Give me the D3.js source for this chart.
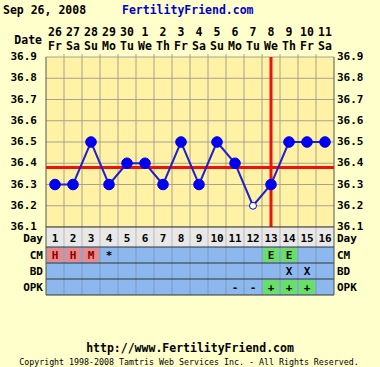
<!DOCTYPE html>
<html>
<head>
<meta charset="utf-8">
<script src="https://cdn.jsdelivr.net/npm/d3@7"></script>
<style>
  body { margin: 0; background: #FFFFCC; }
  svg { display: block; }
  text { font-family: "DejaVu Sans Mono", monospace; font-weight: bold; }
</style>
</head>
<body>
<div id="chart"></div>
<script>
// chart data
const days = d3.range(1, 17);
const dates = ["26","27","28","29","30","1","2","3","4","5","6","7","8","9","10","11"];
const weekdays = ["Fr","Sa","Su","Mo","Tu","We","Th","Fr","Sa","Su","Mo","Tu","We","Th","Fr","Sa"];
const temps = [36.3, 36.3, 36.5, 36.3, 36.4, 36.4, 36.3, 36.5, 36.3, 36.5, 36.4, 36.2, 36.3, 36.5, 36.5, 36.5];
const openPoints = [12];
const yTicks = [36.1, 36.2, 36.3, 36.4, 36.5, 36.6, 36.7, 36.8, 36.9];
const coverline = 36.38;
const ovulationDay = 13;
const cm = ["H","H","M","*","","","","","","","","","E","E","",""];
const bd = ["","","","","","","","","","","","","","X","X",""];
const opk = ["","","","","","","","","","","-","-","+","+","+",""];

const W = 380, H = 367;
const plotL = 46, plotR = 334, plotT = 57, plotB = 227;

const svg = d3.select("#chart").append("svg")
    .attr("width", W)
    .attr("height", H);

svg.append("rect").attr("width", W).attr("height", H).attr("fill", "#FFFFCC");

const x = d3.scaleBand().domain(days).range([plotL, plotR]);
const y = d3.scaleLinear().domain([36.1, 36.9]).range([plotB, plotT]);
const cx = d => x(d) + x.bandwidth() / 2;

// header
svg.append("text").attr("x", 3).attr("y", 14).attr("font-size", 11.5).attr("fill", "#000")
    .text("Sep 26, 2008");
svg.append("text").attr("x", 122).attr("y", 14).attr("font-size", 11.5).attr("fill", "#0000CC")
    .text("FertilityFriend.com");
svg.append("text").attr("x", 42).attr("y", 44).attr("text-anchor", "end").attr("font-size", 11.5)
    .text("Date");

svg.selectAll("text.date").data(days).enter().append("text")
    .attr("x", d => cx(d)).attr("y", 36).attr("text-anchor", "middle").attr("font-size", 11.5)
    .text((d, i) => dates[i]);
svg.selectAll("text.wd").data(days).enter().append("text")
    .attr("x", d => cx(d)).attr("y", 50).attr("text-anchor", "middle").attr("font-size", 11.5)
    .text((d, i) => weekdays[i]);

// plot area
svg.append("rect").attr("x", plotL).attr("y", plotT).attr("width", plotR - plotL).attr("height", plotB - plotT)
    .attr("fill", "#FFF2A4");

svg.selectAll("line.hgrid").data(yTicks).enter().append("line")
    .attr("x1", plotL).attr("x2", plotR)
    .attr("y1", d => y(d)).attr("y2", d => y(d))
    .attr("stroke", "#A8A290").attr("stroke-width", 1);
svg.selectAll("line.vgrid").data(days.slice(1)).enter().append("line")
    .attr("x1", d => x(d)).attr("x2", d => x(d))
    .attr("y1", plotT - 3).attr("y2", plotB)
    .attr("stroke", "#A8A290").attr("stroke-width", 1);
svg.append("line").attr("x1", plotL).attr("x2", plotL).attr("y1", plotT).attr("y2", plotB)
    .attr("stroke", "#555").attr("stroke-width", 1);
svg.append("line").attr("x1", plotR).attr("x2", plotR).attr("y1", plotT).attr("y2", plotB)
    .attr("stroke", "#555").attr("stroke-width", 1);

// y labels both sides
svg.selectAll("text.yl").data(yTicks).enter().append("text")
    .attr("x", 37).attr("y", d => y(d) + 3).attr("text-anchor", "end").attr("font-size", 11)
    .text(d => d.toFixed(1));
svg.selectAll("text.yr").data(yTicks).enter().append("text")
    .attr("x", 337).attr("y", d => y(d) + 3).attr("font-size", 11)
    .text(d => d.toFixed(1));

// coverline and ovulation line
svg.append("line").attr("x1", plotL).attr("x2", plotR)
    .attr("y1", y(coverline)).attr("y2", y(coverline))
    .attr("stroke", "#EE1111").attr("stroke-width", 3);
svg.append("line").attr("x1", cx(ovulationDay)).attr("x2", cx(ovulationDay))
    .attr("y1", plotT).attr("y2", plotB)
    .attr("stroke", "#EE1111").attr("stroke-width", 3);

// temperature line
const line = d3.line().x((d, i) => cx(days[i])).y(d => y(d));
svg.append("path").datum(temps).attr("d", line)
    .attr("fill", "none").attr("stroke", "#2020CC").attr("stroke-width", 2);
svg.selectAll("circle.pt").data(temps).enter().append("circle")
    .attr("cx", (d, i) => cx(days[i])).attr("cy", d => y(d))
    .attr("r", (d, i) => openPoints.includes(days[i]) ? 3.5 : 5.3)
    .attr("fill", (d, i) => openPoints.includes(days[i]) ? "#FFFFFF" : "#0000EE")
    .attr("stroke", "#0000EE").attr("stroke-width", 1);

// table
const rows = [
  { label: "Day", y0: 227, h: 20, fill: "#E8E8E8", vals: days.map(String) },
  { label: "CM", y0: 247, h: 16, fill: "#8DB8EE", vals: cm },
  { label: "BD", y0: 263, h: 16, fill: "#8DB8EE", vals: bd },
  { label: "OPK", y0: 279, h: 16, fill: "#8DB8EE", vals: opk }
];
const cellColor = v => (v === "H" || v === "M") ? "#E88A8A" : (v === "E" || v === "+") ? "#66E066" : null;

rows.forEach(r => {
  const base = r.y0 + r.h / 2 + (r.label === "Day" ? 5 : 4);
  svg.append("rect").attr("x", plotL).attr("y", r.y0).attr("width", plotR - plotL).attr("height", r.h)
      .attr("fill", r.fill);
  days.forEach((d, i) => {
    const c = cellColor(r.vals[i]);
    if (c && r.label !== "Day") {
      svg.append("rect").attr("x", x(d) + 1).attr("y", r.y0 + 1)
          .attr("width", x.bandwidth() - 2).attr("height", r.h - 2).attr("fill", c);
    }
  });
  svg.selectAll(null).data(days.slice(1)).enter().append("line")
      .attr("x1", d => x(d)).attr("x2", d => x(d))
      .attr("y1", r.y0).attr("y2", r.y0 + r.h)
      .attr("stroke", r.label === "Day" ? "#BBBBBB" : "#7A98C0");
  svg.append("line").attr("x1", plotL).attr("x2", plotR).attr("y1", r.y0).attr("y2", r.y0)
      .attr("stroke", "#333").attr("stroke-width", 1);
  svg.selectAll(null).data(days).enter().append("text")
      .attr("x", d => cx(d)).attr("y", base)
      .attr("text-anchor", "middle").attr("font-size", 11)
      .attr("fill", (d, i) => r.label !== "Day" && cellColor(r.vals[i]) === "#E88A8A" ? "#880000" : "#000")
      .text((d, i) => r.vals[i]);
  svg.append("text").attr("x", 43).attr("y", base).attr("text-anchor", "end")
      .attr("font-size", 11).text(r.label);
  svg.append("text").attr("x", 337).attr("y", base)
      .attr("font-size", 11).text(r.label);
});
svg.append("line").attr("x1", plotL).attr("x2", plotR).attr("y1", 295).attr("y2", 295)
    .attr("stroke", "#333");
svg.append("line").attr("x1", plotL).attr("x2", plotL).attr("y1", 227).attr("y2", 295).attr("stroke", "#555");
svg.append("line").attr("x1", plotR).attr("x2", plotR).attr("y1", 227).attr("y2", 295).attr("stroke", "#555");

// footer
svg.append("text").attr("x", 190).attr("y", 352).attr("text-anchor", "middle").attr("font-size", 11.5)
    .text("http://www.FertilityFriend.com");
svg.append("text").attr("x", 189).attr("y", 365).attr("text-anchor", "middle").attr("font-size", 8.3)
    .style("font-weight", "normal")
    .text("Copyright 1998-2008 Tamtris Web Services Inc. - All Rights Reserved.");
</script>
</body>
</html>
